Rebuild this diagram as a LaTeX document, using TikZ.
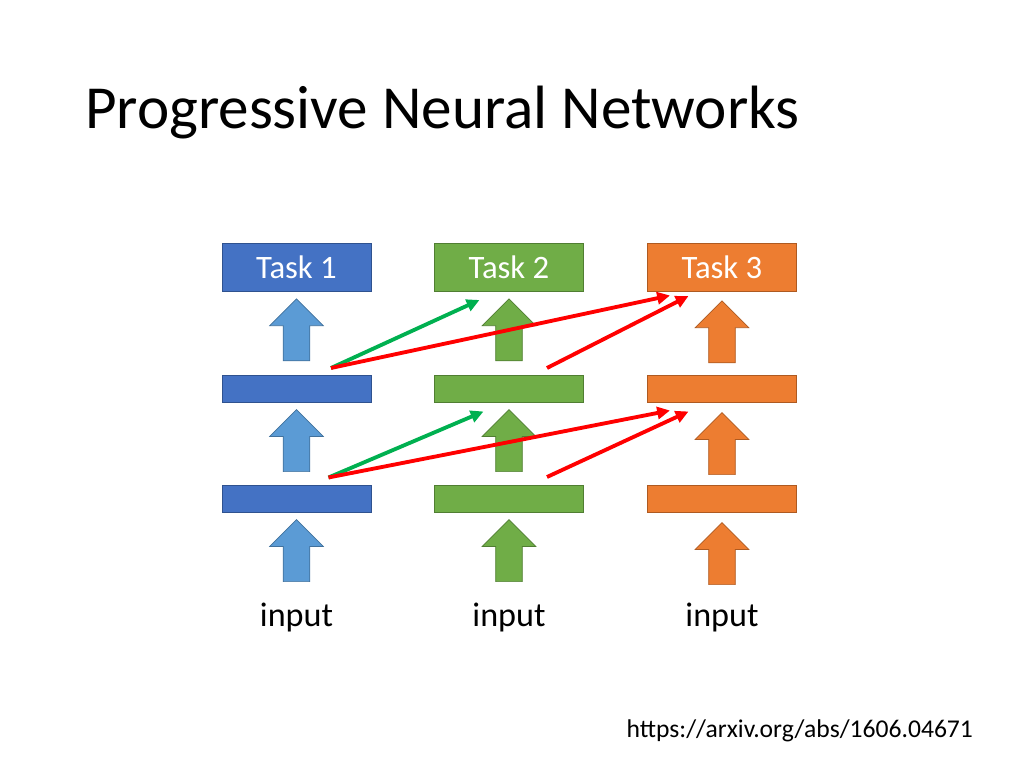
\documentclass[tikz,border=0pt]{standalone}
\usepackage{fontspec}
\setmainfont{Carlito}
\usetikzlibrary{shapes.arrows,arrows.meta,calc,positioning}
\definecolor{taskblue}{HTML}{4472C4}
\definecolor{taskblueline}{HTML}{2F528F}
\definecolor{liteblue}{HTML}{5B9BD5}
\definecolor{liteblueline}{HTML}{41719C}
\definecolor{taskgreen}{HTML}{70AD47}
\definecolor{taskgreenline}{HTML}{507E32}
\definecolor{taskorange}{HTML}{ED7D31}
\definecolor{taskorangeline}{HTML}{AE5A21}
\definecolor{linkgreen}{HTML}{00B050}
\definecolor{linkred}{HTML}{FF0000}

\begin{document}
\begin{tikzpicture}[x=0.703pt, y=-0.703pt,
  taskbox/.style={rectangle, minimum width=104.7pt, minimum height=33.7pt, inner sep=0pt,
    line width=0.5pt, text=white, font=\fontsize{23}{27}\selectfont},
  layerbar/.style={rectangle, minimum width=104.7pt, minimum height=19.3pt, inner sep=0pt,
    line width=0.5pt},
  upblock/.style={single arrow, rotate=90, minimum height=43.6pt,
    inner xsep=0pt, inner ysep=9.1pt, single arrow head extend=9.5pt,
    line width=0.5pt, anchor=tip},
  link/.style={line width=2.7pt, -{Triangle[length=9pt,width=8.5pt]}}]
  \useasboundingbox (0,0) rectangle (1024,768);

  % Title
  \node[anchor=base west, font=\fontsize{43}{50}\selectfont] (title) at (80,128) {Progressive Neural Networks};

  % Task boxes
  \node[taskbox, fill=taskblue, draw=taskblueline] (task1) at (296.5,267) {Task 1};
  \node[taskbox, fill=taskgreen, draw=taskgreenline] (task2) at (509,267) {Task 2};
  \node[taskbox, fill=taskorange, draw=taskorangeline] (task3) at (722,267) {Task 3};

  % Hidden layers
  \node[layerbar, fill=taskblue, draw=taskblueline] (h1a) at (296.5,389) {};
  \node[layerbar, fill=taskgreen, draw=taskgreenline] (h1b) at (509,389) {};
  \node[layerbar, fill=taskorange, draw=taskorangeline] (h1c) at (722,389) {};
  \node[layerbar, fill=taskblue, draw=taskblueline] (h2a) at (296.5,499) {};
  \node[layerbar, fill=taskgreen, draw=taskgreenline] (h2b) at (509,499) {};
  \node[layerbar, fill=taskorange, draw=taskorangeline] (h2c) at (722,499) {};

  % Block arrows between layers
  \node[upblock, fill=liteblue, draw=liteblueline] (up1a) at ($(task1.south)+(0,7)$) {};
  \node[upblock, fill=taskgreen, draw=taskgreenline] (up1b) at ($(task2.south)+(0,7)$) {};
  \node[upblock, fill=taskorange, draw=taskorangeline] (up1c) at ($(task3.south)+(0,9)$) {};
  \node[upblock, fill=liteblue, draw=liteblueline] (up2a) at ($(h1a.south)+(0,6)$) {};
  \node[upblock, fill=taskgreen, draw=taskgreenline] (up2b) at ($(h1b.south)+(0,6)$) {};
  \node[upblock, fill=taskorange, draw=taskorangeline] (up2c) at ($(h1c.south)+(0,9)$) {};
  \node[upblock, fill=liteblue, draw=liteblueline] (up3a) at ($(h2a.south)+(0,6)$) {};
  \node[upblock, fill=taskgreen, draw=taskgreenline] (up3b) at ($(h2b.south)+(0,6)$) {};
  \node[upblock, fill=taskorange, draw=taskorangeline] (up3c) at ($(h2c.south)+(0,9)$) {};

  % Inputs
  \node[anchor=base, font=\fontsize{24}{28}\selectfont] (in1) at (296.5,626) {input};
  \node[anchor=base, font=\fontsize{24}{28}\selectfont] (in2) at (509,626) {input};
  \node[anchor=base, font=\fontsize{24}{28}\selectfont] (in3) at (722,626) {input};

  % Lateral connections
  \coordinate (s1a) at (331,368);
  \coordinate (s1b) at (547,368);
  \coordinate (s2a) at (328.5,477.5);
  \coordinate (s2b) at (547,477);
  \coordinate (e1g) at (479.5,300);
  \coordinate (e1r) at (670,295.5);
  \coordinate (e1s) at (688.5,296);
  \coordinate (e2g) at (483.5,411.5);
  \coordinate (e2r) at (670,410.5);
  \coordinate (e2s) at (688.5,411.5);
  \draw[link, linkgreen] (s1a) -- (e1g);
  \draw[link, linkred] (s1a) -- (e1r);
  \draw[link, linkred] (s1b) -- (e1s);
  \draw[link, linkgreen] (s2a) -- (e2g);
  \draw[link, linkred] (s2a) -- (e2r);
  \draw[link, linkred] (s2b) -- (e2s);

  % Reference
  \node[anchor=base east, font=\fontsize{18}{22}\selectfont] (ref) at (978,737) {https://arxiv.org/abs/1606.04671};
\end{tikzpicture}
\end{document}
